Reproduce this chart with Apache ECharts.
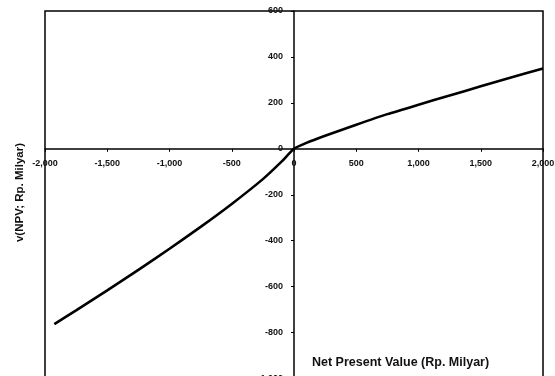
<!DOCTYPE html>
<html>
<head>
<meta charset="utf-8">
<title>v(NPV)</title>
<script src="https://cdn.jsdelivr.net/npm/echarts@6/dist/echarts.min.js"></script>
<style>
  html, body { margin: 0; padding: 0; background: #fff; }
  #chart { width: 555px; height: 376px; }
</style>
</head>
<body>
<div id="chart"></div>
<script>
// Value function over net present value (Rp. Milyar)
const npv = [-1925, -1750, -1500, -1250, -1000, -750, -500, -250, -100, 0,
             100, 250, 500, 750, 1000, 1250, 1500, 1750, 2000];
const value = [-763, -703, -616, -527, -435, -340, -240, -132, -56, 0,
               26, 57, 105, 151, 192, 232, 272, 312, 350];

const xTicks = { min: -2000, max: 2000, step: 500 };
const yTicks = { min: -1000, max: 600, step: 200 };

const xTitle = 'Net Present Value (Rp. Milyar)';
const yTitle = 'v(NPV; Rp. Milyar)';

const FONT = '"Liberation Sans", Arial, Helvetica, sans-serif';
const fmt = v => v.toLocaleString('en-US');

const chart = echarts.init(document.getElementById('chart'), null, { renderer: 'canvas' });

const axisCommon = {
  type: 'value',
  axisLine: { onZero: false, lineStyle: { color: '#000', width: 1.5 } },
  axisTick: { show: true, length: 3, lineStyle: { color: '#000', width: 1 } },
  splitLine: { show: false }
};
const labelCommon = {
  formatter: fmt, showMinLabel: true, showMaxLabel: true, hideOverlap: false,
  fontFamily: FONT, fontSize: 9, fontWeight: 'bold', color: '#111'
};

chart.setOption({
  animation: false,
  backgroundColor: '#fff',
  grid: {
    left: 45, right: 12, top: 11, bottom: -2.5,
    show: true, borderColor: '#000', borderWidth: 1.5,
    containLabel: false,
    outerBoundsMode: 'none'
  },
  xAxis: Object.assign({}, axisCommon, {
    position: 'bottom',
    min: xTicks.min, max: xTicks.max, interval: xTicks.step,
    axisLabel: Object.assign({ margin: 10 }, labelCommon)
  }),
  yAxis: Object.assign({}, axisCommon, {
    position: 'left',
    min: yTicks.min, max: yTicks.max, interval: yTicks.step,
    axisLabel: Object.assign({ margin: 11 }, labelCommon)
  }),
  series: [{
    type: 'line',
    data: npv.map((x, i) => [x, value[i]]),
    smooth: 0.2,
    showSymbol: false,
    lineStyle: { color: '#000', width: 2.6 }
  }],
  graphic: [
    {
      type: 'text', left: 312, top: 356,
      style: { text: xTitle, font: 'bold 12.5px ' + FONT, fill: '#111' }
    },
    {
      type: 'text', x: 19.5, y: 192.5, rotation: Math.PI / 2,
      style: { text: yTitle, font: 'bold 11.5px ' + FONT, fill: '#111',
               align: 'center', verticalAlign: 'middle' }
    },
    { type: 'text', x: 125, y: 3, style: { text: 'i=1', font: 'italic 12px "Liberation Serif", serif', fill: '#222', align: 'center', verticalAlign: 'bottom' } },
    { type: 'text', x: 279, y: 3, style: { text: '2', font: 'italic 12px "Liberation Serif", serif', fill: '#222', align: 'center', verticalAlign: 'bottom' } },
    { type: 'text', x: 421, y: 3, style: { text: '3', font: 'italic 12px "Liberation Serif", serif', fill: '#222', align: 'center', verticalAlign: 'bottom' } }
  ]
});

// Move both axes (line, ticks, labels) so they cross at the origin.
const origin = chart.convertToPixel({ gridIndex: 0 }, [0, 0]);
const corner = chart.convertToPixel({ gridIndex: 0 }, [xTicks.min, yTicks.min]);
chart.setOption({
  xAxis: { offset: -(corner[1] - origin[1]) },
  yAxis: { offset: -(origin[0] - corner[0]) }
});
</script>
</body>
</html>
